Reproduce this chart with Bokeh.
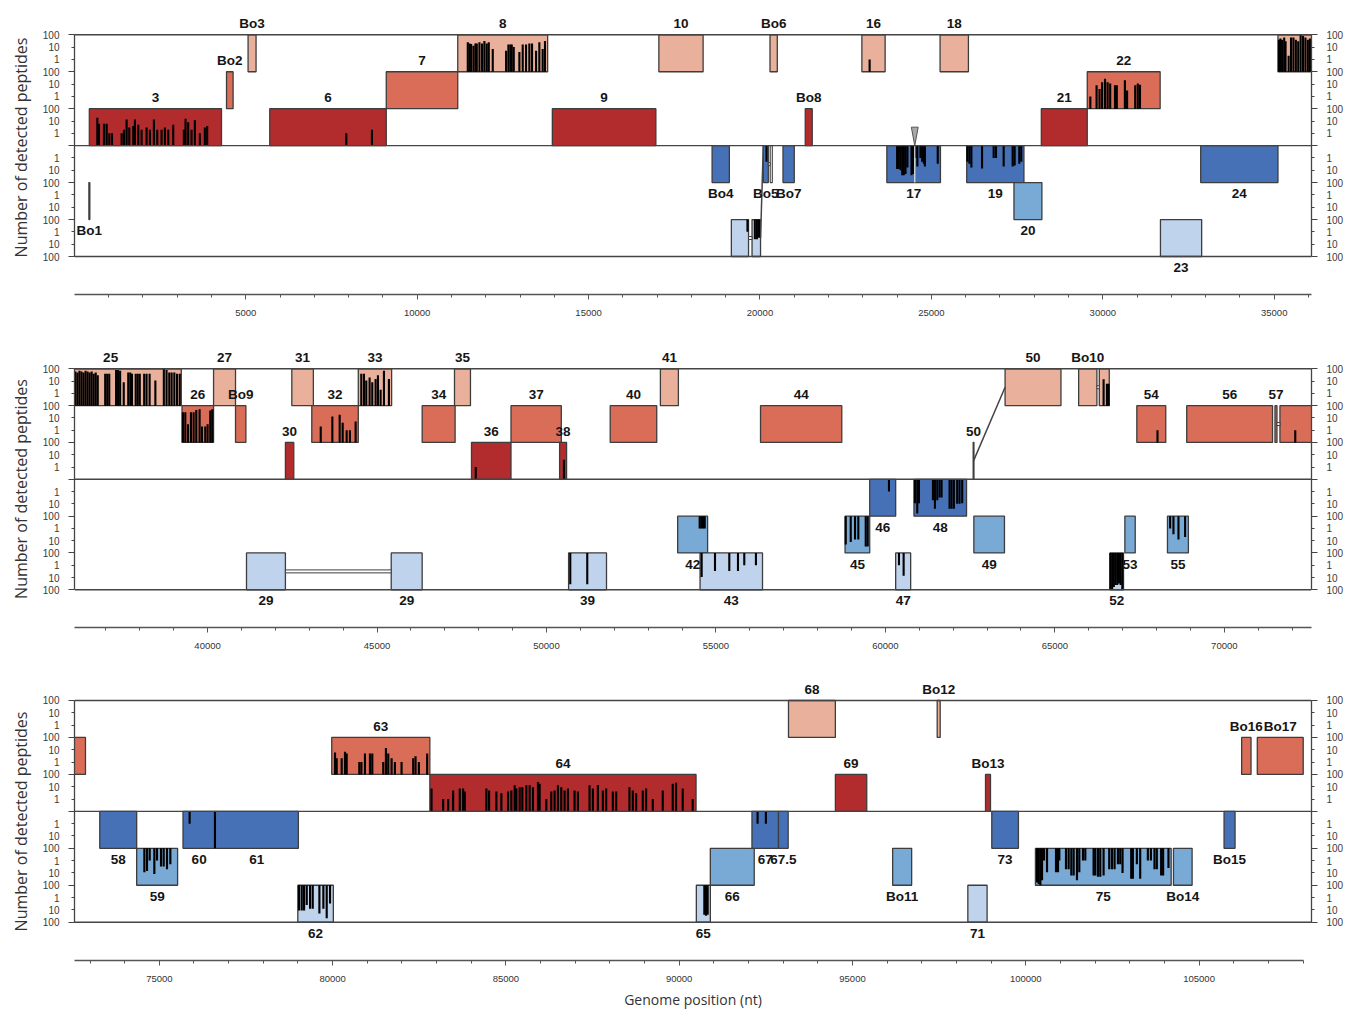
import numpy as np
from bokeh.plotting import figure
from bokeh.layouts import column
from bokeh.models import (Range1d, LinearAxis, FixedTicker, SingleIntervalTicker,
                          BasicTickFormatter, Span)
from bokeh.core.properties import value
from bokeh.embed import file_html
from bokeh.resources import INLINE

# track 0-2: reverse frames (light -> dark blue), track 3-5: forward frames (dark -> light red)
TRACK_FILL = ["#BFD3EC", "#79A9D5", "#4771B6", "#B22B2D", "#D96D58", "#E9B19B"]
EDGE = "#3d3d3d"
TICK_VALUES = ["1", "10", "100"]
Y_TITLE = "Number of detected peptides"
X_TITLE = "Genome position (nt)"

# ---------------- panel 1 : genes ----------------
p1_gene_name = ["3", "Bo2", "Bo3", "6", "7", "8", "9", "10", "Bo6", "Bo8", "16", "18", "21", "22", "",
                "Bo1", "Bo4", "", "", "Bo5", "Bo7", "17", "19", "20", "23", "24"]
p1_gene_start = [437, 4439, 5068, 5700, 9099, 11184, 13943, 17050, 20292, 21320, 22972, 25253, 28206, 29546, 35109,
                 425, 18603, 19165, 19768, 20097, 20671, 23700, 26030, 27408, 31681, 32855]
p1_gene_end = [4293, 4631, 5301, 9099, 11184, 13806, 16963, 18341, 20505, 21524, 23650, 26080, 29546, 31672, 39225,
               452, 19107, 19666, 20016, 20243, 21000, 25264, 27699, 28223, 32883, 35109]
p1_gene_track = [3, 4, 5, 3, 4, 5, 3, 5, 5, 3, 5, 5, 3, 4, 5,
                 1, 2, 0, 0, 2, 2, 2, 2, 1, 0, 2]
p1_open_start, p1_open_end, p1_open_track = [20298], [20359], [2]
p1_bridge_start, p1_bridge_end, p1_bridge_track = [19666, 20243], [19768, 20298], [0, 2]
p1_link_x0, p1_link_t0, p1_link_x1, p1_link_t1 = [20016], [0.5], [20097], [3.0]
p1_marker_pos = 24515

# ---------------- panel 2 : genes ----------------
p2_gene_name = ["25", "26", "27", "Bo9", "30", "31", "32", "33", "34", "35", "36", "37", "38", "40", "41", "44",
                "50", "50", "Bo10", "", "54", "56", "57", "",
                "29", "29", "39", "42", "43", "45", "46", "47", "48", "49", "52", "53", "55"]
p2_gene_start = [35109, 39246, 40177, 40825, 42297, 42486, 43075, 44447, 46332, 47286, 47787, 48953, 50387, 51880,
                 53361, 56315, 62590, 63531, 65701, 66311, 67418, 68890, 71494, 71641,
                 41149, 45419, 50652, 53871, 54531, 58810, 59537, 60303, 60842, 62609, 66623, 67065, 68322]
p2_gene_end = [39225, 40177, 40825, 41131, 42544, 43122, 44447, 45431, 47304, 47757, 48953, 50437, 50593, 53253,
               53892, 58713, 62612, 65180, 66240, 66605, 68272, 71423, 71553, 72869,
               42297, 46332, 51771, 54754, 56374, 59537, 60303, 60745, 62394, 63513, 67026, 67371, 68940]
p2_gene_track = [5, 4, 5, 4, 3, 5, 4, 5, 4, 5, 3, 4, 3, 4, 5, 4,
                 3, 5, 5, 5, 4, 4, 4, 4,
                 0, 0, 0, 1, 0, 1, 2, 0, 2, 1, 0, 1, 1]
p2_label_at = {"25": 37140}
p2_bridge_start, p2_bridge_end, p2_bridge_track = [42297, 66240, 71553], [45419, 66311, 71641], [0, 5, 4]
p2_link_x0, p2_link_t0, p2_link_x1, p2_link_t1 = [62600], [3.5], [63531], [5.5]

# ---------------- panel 3 : genes ----------------
p3_gene_name = ["", "58", "59", "60", "61", "62", "63", "64", "65", "66", "67", "67.5", "68", "69", "Bo11",
                "Bo12", "71", "Bo13", "73", "75", "Bo14", "Bo15", "Bo16", "Bo17"]
p3_gene_start = [71641, 73281, 74346, 75683, 76613, 78995, 79974, 82805, 90494, 90898, 92099, 92865, 93153, 94506,
                 96159, 97444, 98328, 98838, 99019, 100278, 104261, 105721, 106228, 106680]
p3_gene_end = [72869, 74346, 75527, 76613, 79012, 80020, 82805, 90486, 90898, 92165, 92865, 93144, 94506, 95411,
               96707, 97530, 98884, 98982, 99788, 104195, 104799, 106038, 106499, 108005]
p3_gene_track = [4, 2, 1, 2, 2, 0, 4, 3, 0, 1, 2, 2, 5, 3, 1,
                 5, 0, 3, 2, 1, 1, 2, 4, 4]

# ---------------- detected peptides (position nt, count) ----------------
pep3_pos = [671, 719, 865, 943, 1020, 1098, 1380, 1448, 1525, 1603, 1719, 1768, 1865, 1962, 2108, 2205, 2321,
            2419, 2545, 2642, 2739, 2885, 3195, 3244, 3321, 3419, 3516, 3661, 3807, 3875]
pep3_n = [18, 6, 6, 6, 1, 1, 1, 2, 13, 3, 4, 13, 5, 2, 3, 2, 13, 2, 2, 3, 2, 5, 2, 15, 8, 2, 12, 1, 3, 4]
pep6_pos, pep6_n = [7933, 8681], [1, 2]
pep8_pos = [11477, 11530, 11574, 11642, 11700, 11739, 11817, 11894, 11962, 12030, 12089, 12205, 12594, 12662,
            12720, 12759, 12817, 12982, 13079, 13176, 13273, 13351, 13468, 13564, 13661, 13729]
pep8_n = [25, 20, 18, 13, 20, 20, 25, 20, 31, 20, 25, 7, 5, 16, 16, 16, 10, 4, 16, 16, 20, 20, 5, 25, 7, 31]
pep16_pos, pep16_n = [23198], [1]
pep22_pos = [29636, 29818, 29904, 29979, 30065, 30140, 30215, 30355, 30408, 30644, 30708, 30945, 31020, 31084]
pep22_n = [1, 8, 4, 14, 27, 14, 11, 8, 8, 20, 3, 8, 11, 9]
pep25_pos = [35137, 35180, 35230, 35290, 35330, 35420, 35490, 35560, 35630, 35700, 35770, 35840, 35910, 35980,
             36040, 36100, 36160, 36220, 36280, 36340, 36400, 36460, 36520, 36580, 36640, 36700, 36760, 36980,
             37040, 37100, 37300, 37360, 37420, 37527, 37660, 37720, 37770, 37880, 37940, 38000, 38130, 38200,
             38290, 38460, 38710, 38790, 38870, 38940, 39020, 39100, 39180]
pep25_n = [40, 50, 40, 60, 30, 2, 60, 60, 40, 30, 100, 80, 60, 40, 50, 60, 50, 70, 60, 50, 70, 60, 50, 60, 40,
           50, 30, 40, 40, 40, 80, 80, 70, 8, 50, 50, 40, 40, 40, 40, 40, 40, 40, 11, 100, 80, 50, 50, 50, 40, 40]
pepBo5_pos, pepBo5_n = [20190], [2]
pepR0_pos, pepR0_n = [19635, 19850, 19910, 19970], [1, 4, 4, 3]
pep17_pos = [24000, 24050, 24100, 24150, 24195, 24245, 24300, 24420, 24460, 24535, 24590, 24680, 24730, 24780,
             24810, 25185]
pep17_n = [8, 8, 10, 25, 25, 20, 6, 25, 20, 1, 5, 1, 2, 3, 5, 3]
pep19_pos = [26049, 26108, 26166, 26477, 26816, 26884, 27108, 27370, 27428, 27564, 27622]
pep19_n = [2, 3, 6, 7, 1, 1, 5, 5, 4, 3, 2]

pep26_pos = [39273, 39343, 39422, 39510, 39589, 39667, 39765, 39834, 39932, 40001, 40080, 40139]
pep26_n = [29, 29, 3, 29, 29, 45, 50, 2, 2, 3, 40, 50]
pep32_pos, pep32_n = [43339, 43682, 43898, 43987, 44104, 44200, 44369], [2, 13, 18, 4, 1, 1, 5]
pep33_pos = [44536, 44615, 44683, 44781, 44860, 44958, 45027, 45106, 45204, 45351]
pep33_n = [40, 40, 11, 20, 8, 15, 30, 2, 70, 15]
pep36_pos, pep36_n = [47913], [1]
pep38_pos, pep38_n = [50514], [4]
pep39_pos, pep39_n = [50702, 51203], [36, 36]
pep42_pos, pep42_n = [54520, 54570, 54620, 54670], [1, 1, 1, 1]
pep43_pos, pep43_n = [54578, 54972, 55394, 55650, 55836, 56180], [9, 3, 3, 3, 1, 1]
pep45_pos, pep45_n = [58830, 58977, 59104, 59201, 59419, 59478], [20, 13, 8, 8, 30, 30]
pep46_pos, pep46_n = [60105], [1]
pep47_pos, pep47_n = [60400, 60538], [1, 7]
pep48_pos = [60872, 60940, 60990, 61402, 61461, 61530, 61598, 61657, 61893, 61952, 62020, 62118, 62187, 62266]
pep48_n = [9, 60, 9, 5, 25, 5, 3, 3, 25, 25, 25, 10, 10, 9]
pepBo10_pos, pepBo10_n = [66438, 66536, 66585], [14, 6, 6]
pep52_pos = [66640, 66690, 66740, 66790, 66840, 66890, 66940, 66990]
pep52_n = [100, 100, 60, 40, 40, 30, 40, 100]
pep54_pos, pep54_n = [68028], [1]
pep55_pos, pep55_n = [68401, 68499, 68647, 68843], [1, 3, 8, 5]
pep57_pos, pep57_n = [72093], [1]

pep59_pos = [74568, 74645, 74722, 74856, 74933, 75048, 75125, 75221, 75317]
pep59_n = [9, 7, 1, 12, 1, 3, 3, 5, 2]
pep60_pos, pep60_n = [75874, 76605], [1, 100]
pep62_pos = [79032, 79109, 79176, 79253, 79349, 79426, 79618, 79733, 79829, 79925]
pep62_n = [11, 11, 11, 4, 8, 8, 20, 8, 48, 3]
pep63_pos = [80069, 80117, 80261, 80357, 80405, 80770, 80830, 80933, 81077, 81144, 81461, 81538, 81605, 81701,
             81797, 81989, 82325, 82392, 82488, 82728]
pep63_n = [6, 2, 2, 7, 5, 1, 1, 5, 5, 5, 1, 14, 5, 2, 1, 1, 2, 3, 1, 5]
pep64_pos = [82853, 83189, 83333, 83477, 83669, 83765, 83813, 84437, 84514, 84725, 84869, 85061, 85157, 85253,
             85301, 85397, 85474, 85589, 85685, 85781, 85925, 85973, 86165, 86309, 86405, 86501, 86597, 86693,
             86789, 86981, 87077, 87413, 87509, 87653, 87797, 87893, 88085, 88181, 88565, 88661, 88757, 88949,
             89045, 89237, 89525, 89813, 89909, 90101, 90389]
pep64_n = [7, 1, 1, 5, 7, 7, 4, 7, 5, 4, 3, 4, 5, 13, 7, 9, 9, 13, 13, 9, 24, 17, 1, 4, 5, 13, 9, 5, 7, 5, 4,
           13, 7, 14, 5, 7, 4, 4, 9, 5, 3, 5, 7, 1, 5, 17, 21, 7, 1]
pep65_pos, pep65_n = [90725, 90773, 90821], [25, 30, 25]
pep67_pos, pep67_n = [92261, 92501], [1, 1]
pep75_pos = [100325, 100373, 100421, 100469, 100527, 100613, 100872, 100930, 100968, 101160, 101237, 101314,
             101381, 101477, 101544, 101650, 101717, 101957, 102005, 102082, 102149, 102245, 102408, 102485,
             102562, 102658, 102725, 102792, 103042, 103090, 103205, 103301, 103522, 103610, 103714, 103781,
             103906, 103963, 104117]
pep75_n = [60, 80, 100, 40, 1, 9, 9, 9, 1, 5, 5, 16, 16, 40, 9, 1, 1, 16, 16, 20, 20, 16, 5, 5, 5, 2, 2, 10,
           30, 30, 2, 30, 1, 1, 5, 5, 16, 16, 4]

# peptide sets per panel: (positions, counts, track)
p1_peptides = [(pep3_pos, pep3_n, 3), (pep6_pos, pep6_n, 3), (pep8_pos, pep8_n, 5), (pep16_pos, pep16_n, 5),
               (pep22_pos, pep22_n, 4), (pep25_pos, pep25_n, 5), (pepBo5_pos, pepBo5_n, 2),
               (pepR0_pos, pepR0_n, 0), (pep17_pos, pep17_n, 2), (pep19_pos, pep19_n, 2)]
p2_peptides = [(pep25_pos, pep25_n, 5), (pep26_pos, pep26_n, 4), (pep32_pos, pep32_n, 4), (pep33_pos, pep33_n, 5),
               (pep36_pos, pep36_n, 3), (pep38_pos, pep38_n, 3), (pep39_pos, pep39_n, 0), (pep42_pos, pep42_n, 1),
               (pep43_pos, pep43_n, 0), (pep45_pos, pep45_n, 1), (pep46_pos, pep46_n, 2), (pep47_pos, pep47_n, 0),
               (pep48_pos, pep48_n, 2), (pepBo10_pos, pepBo10_n, 5), (pep52_pos, pep52_n, 0),
               (pep54_pos, pep54_n, 4), (pep55_pos, pep55_n, 1), (pep57_pos, pep57_n, 4)]
p3_peptides = [(pep59_pos, pep59_n, 1), (pep60_pos, pep60_n, 2), (pep62_pos, pep62_n, 0), (pep63_pos, pep63_n, 4),
               (pep64_pos, pep64_n, 3), (pep65_pos, pep65_n, 0), (pep67_pos, pep67_n, 2), (pep75_pos, pep75_n, 1)]

BAR_W = 62
LABEL_FONT = "Liberation Sans"


def bar_height(n):
    # log scale: 1 -> 1/3 of track, 10 -> 2/3, 100 -> full (track = 3 units)
    return np.clip(np.log10(np.asarray(n, dtype=float)) + 1.0, 0.0, 3.0)


def track_ticks():
    labels = {}
    for t in range(6):
        if t >= 3:
            labels[3 * t + 1], labels[3 * t + 2], labels[3 * t + 3] = TICK_VALUES
        else:
            labels[3 * t + 2], labels[3 * t + 1], labels[3 * t] = TICK_VALUES
    return labels


def make_panel(xr, yr, height, border_bottom, names, starts, ends, tracks, peptides,
               label_at=None, bridges=None, links=None, opens=None, xbounds="auto", xtitle=None):
    p = figure(width=1346, height=height, x_range=Range1d(*xr), y_range=Range1d(*yr),
               toolbar_location=None, output_backend="svg", y_axis_location=None,
               min_border_left=74, min_border_right=33, min_border_top=0, min_border_bottom=border_bottom)
    p.outline_line_color = None
    p.grid.visible = False
    p.background_fill_color = "white"
    p.border_fill_color = "white"

    starts = np.asarray(starts, float)
    ends = np.asarray(ends, float)
    tracks = np.asarray(tracks)
    p.quad(left=starts, right=ends, bottom=3 * tracks, top=3 * tracks + 3,
           fill_color=[TRACK_FILL[t] for t in tracks], line_color=EDGE, line_width=1.3)

    if opens:
        os_, oe, ot = (np.asarray(a, float) for a in opens)
        p.quad(left=os_, right=oe, bottom=3 * ot, top=3 * ot + 3, fill_color="white",
               line_color=EDGE, line_width=1.1)
    if bridges:
        bs, be, bt = (np.asarray(a, float) for a in bridges)
        p.quad(left=bs, right=be, bottom=3 * bt + 1.38, top=3 * bt + 1.62, fill_color="white",
               line_color=EDGE, line_width=1.0)
    if links:
        x0, t0, x1, t1 = (np.asarray(a, float) for a in links)
        p.segment(x0=x0, y0=3 * t0, x1=x1, y1=3 * t1, line_color="#444444", line_width=1.5)

    # peptide bars
    L, R, B, T = [], [], [], []
    for pos, n, t in peptides:
        pos = np.asarray(pos, float)
        h = bar_height(n)
        L.append(pos - BAR_W / 2)
        R.append(pos + BAR_W / 2)
        if t >= 3:
            B.append(np.full(len(pos), 3.0 * t))
            T.append(3.0 * t + h)
        else:
            T.append(np.full(len(pos), 3.0 * t + 3))
            B.append(3.0 * t + 3 - h)
    p.quad(left=np.concatenate(L), right=np.concatenate(R), bottom=np.concatenate(B),
           top=np.concatenate(T), fill_color="black", line_color=None)

    # gene labels
    lx, ly, lt = [], [], []
    label_at = label_at or {}
    for nm, s, e, t in zip(names, starts, ends, tracks):
        if not nm:
            continue
        lx.append(label_at.get(nm, (s + e) / 2))
        ly.append(3 * t + 3 + 0.9 if t >= 3 else 3 * t - 0.9)
        lt.append(nm)
    p.text(x=lx, y=ly, text=lt, text_align="center", text_baseline="middle",
           text_font=value(LABEL_FONT), text_font_style="bold", text_font_size="13.5px", text_color="#151515")

    for loc in (0, 9, 18):
        p.add_layout(Span(location=loc, dimension="width", line_color="#444444", line_width=1.4))

    labels = track_ticks()
    ticker = FixedTicker(ticks=sorted(labels), minor_ticks=[0, 3, 6, 9, 12, 15, 18])
    for side in ("left", "right"):
        ax = LinearAxis(ticker=ticker, bounds=(0, 18), major_label_overrides=labels,
                        major_tick_out=3, major_tick_in=0, minor_tick_out=6, minor_tick_in=0,
                        major_label_standoff=9, axis_line_color="#444444", axis_line_width=1.3,
                        major_tick_line_color="#444444", minor_tick_line_color="#444444",
                        major_label_text_font=LABEL_FONT, major_label_text_font_size="10px",
                        major_label_text_color="#3a3a3a")
        if side == "left":
            ax.axis_label = Y_TITLE
            ax.axis_label_text_font = "Open Sans"
            ax.axis_label_text_font_size = "16px"
            ax.axis_label_text_font_style = "normal"
            ax.axis_label_text_color = "#333333"
            ax.axis_label_standoff = 8
        p.add_layout(ax, side)

    xa = p.xaxis[0]
    xa.ticker = SingleIntervalTicker(interval=5000, num_minor_ticks=5)
    xa.formatter = BasicTickFormatter(use_scientific=False)
    xa.major_tick_out = 5
    xa.major_tick_in = 0
    xa.minor_tick_out = 3
    xa.minor_tick_in = 0
    xa.axis_line_color = "#555555"
    xa.axis_line_width = 1.5
    xa.major_tick_line_color = "#555555"
    xa.minor_tick_line_color = "#555555"
    xa.major_label_standoff = 10
    xa.major_label_text_font = LABEL_FONT
    xa.major_label_text_font_size = "9.5px"
    xa.major_label_text_color = "#333333"
    xa.bounds = xbounds
    if xtitle:
        xa.axis_label = xtitle
        xa.axis_label_text_font = "Open Sans"
        xa.axis_label_text_font_size = "14px"
        xa.axis_label_text_font_style = "normal"
        xa.axis_label_text_color = "#333333"
        xa.axis_label_standoff = 5
    return p


p1 = make_panel((5, 36087), (-3.085, 20.785), 350, 56,
                p1_gene_name, p1_gene_start, p1_gene_end, p1_gene_track, p1_peptides,
                bridges=(p1_bridge_start, p1_bridge_end, p1_bridge_track),
                links=(p1_link_x0, p1_link_t0, p1_link_x1, p1_link_t1),
                opens=(p1_open_start, p1_open_end, p1_open_track))
# insertion marker on panel 1
p1.patch(x=[p1_marker_pos - 100, p1_marker_pos + 100, p1_marker_pos], y=[10.5, 10.5, 9.0],
         fill_color="#A8A8A8", line_color="#555555", line_width=1)
p1.segment(x0=[p1_marker_pos], y0=[9.0], x1=[p1_marker_pos], y1=[6.0], line_color="#E2E2E2", line_width=1.2)

p2 = make_panel((36074, 72572), (-3.07, 19.49), 332, 55,
                p2_gene_name, p2_gene_start, p2_gene_end, p2_gene_track, p2_peptides,
                label_at=p2_label_at,
                bridges=(p2_bridge_start, p2_bridge_end, p2_bridge_track),
                links=(p2_link_x0, p2_link_t0, p2_link_x1, p2_link_t1))

p3 = make_panel((72552, 108244), (-3.11, 19.461), 329, 51,
                p3_gene_name, p3_gene_start, p3_gene_end, p3_gene_track, p3_peptides,
                xbounds=(72552, 108005), xtitle=X_TITLE)

layout = column(p1, p2, p3)
open("out.html", "w").write(file_html(layout, INLINE))
